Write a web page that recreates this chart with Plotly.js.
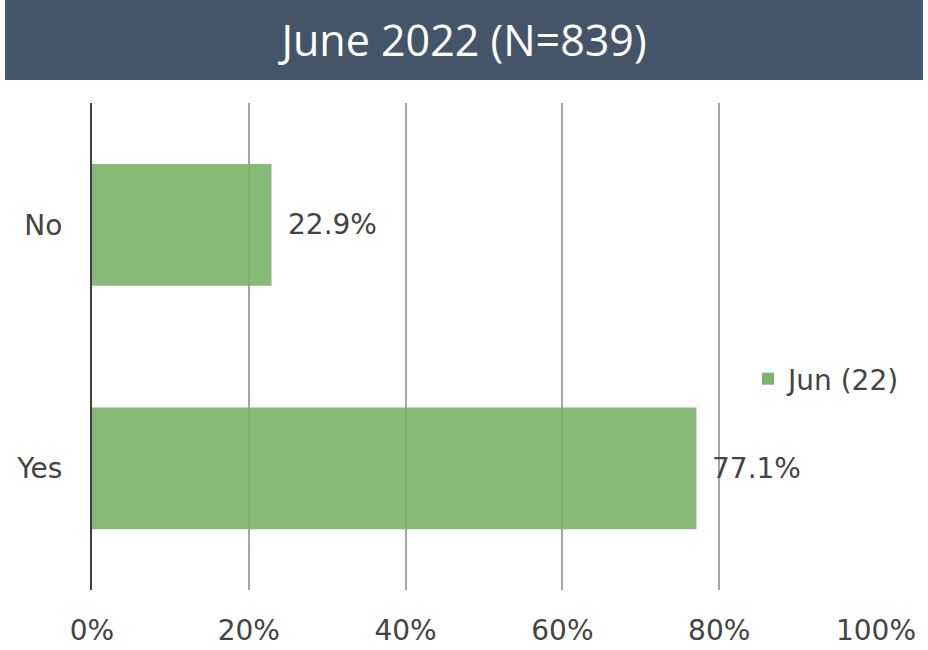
<!DOCTYPE html>
<html>
<head>
<meta charset="utf-8">
<script src="https://cdn.plot.ly/plotly-3.0.1.min.js"></script>
<style>html,body{margin:0;padding:0;background:#fff;}#chart{width:928px;height:650px;}</style>
</head>
<body>
<div id="chart"></div>
<script>
const categories = ["Yes", "No"];
const values = [77.1, 22.9];
const seriesName = "Jun (22)";
const titleText = "June 2022 (N=839)";
const tickVals = [0, 20, 40, 60, 80, 100];
const tickText = ["0%", "20%", "40%", "60%", "80%", "100%"];

const L = 92, R = 52, T = 103, B = 60;
const W = 928, H = 650;
const pw = W - L - R, ph = H - T - B;
const px2x = p => (p - L) / pw;
const py2y = p => (H - B - p) / ph;

const FONT = "DejaVu Sans, sans-serif";
const TXT = "#444444";

const trace = {
  type: "bar",
  orientation: "h",
  y: categories,
  x: values,
  name: seriesName,
  width: 0.5,
  marker: {color: "#7AB368", opacity: 0.9},
  hoverinfo: "none"
};

const annotations = categories.map((c, i) => ({
  x: values[i], y: c, xref: "x", yref: "y",
  text: values[i].toFixed(1) + "%",
  showarrow: false, xanchor: "left", yanchor: "middle", xshift: 14,
  font: {family: FONT, size: 28, color: TXT}
}));

const layout = {
  width: W, height: H,
  margin: {l: L, r: R, t: T, b: B},
  paper_bgcolor: "#ffffff", plot_bgcolor: "#ffffff",
  showlegend: true,
  legend: {
    x: px2x(748), y: py2y(379), xanchor: "left", yanchor: "middle",
    font: {family: FONT, size: 28, color: TXT},
    bgcolor: "rgba(0,0,0,0)"
  },
  xaxis: {
    range: [0, 100], tickvals: tickVals, ticktext: tickText,
    showgrid: true, gridcolor: "#A6A6A6", gridwidth: 2,
    zeroline: false, showline: false, ticks: "",
    tickfont: {family: FONT, size: 28, color: TXT},
    ticklabelstandoff: 21, fixedrange: true
  },
  yaxis: {
    categoryorder: "array", categoryarray: categories,
    range: [-0.5, 1.5],
    showline: true, linecolor: "#404040", linewidth: 2,
    showgrid: false, zeroline: false, ticks: "",
    tickfont: {family: FONT, size: 28, color: TXT},
    ticklabelstandoff: 22, fixedrange: true
  },
  title: {
    text: titleText,
    x: 0.5, xref: "container", xanchor: "center",
    y: 1 - 41 / H, yanchor: "middle", yref: "container",
    font: {family: "Open Sans, sans-serif", size: 43, color: "#ffffff"}
  },
  shapes: [{
    type: "rect", xref: "paper", yref: "paper", layer: "below",
    x0: px2x(5), x1: px2x(923), y0: py2y(80), y1: py2y(0),
    fillcolor: "#455569", line: {width: 0}
  }],
  annotations: annotations
};

Plotly.newPlot("chart", [trace], layout, {displayModeBar: false, staticPlot: true});
</script>
</body>
</html>
